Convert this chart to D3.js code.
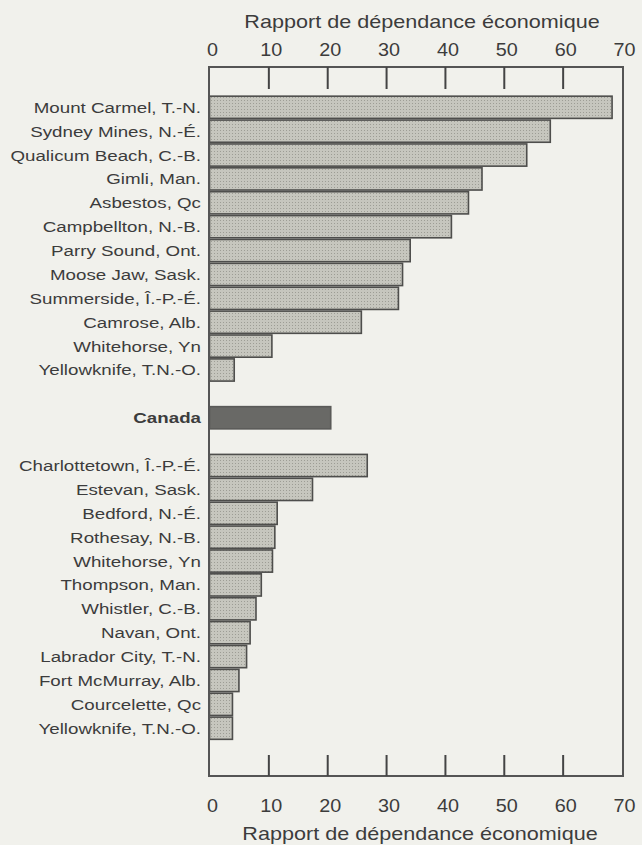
<!DOCTYPE html>
<html>
<head>
<meta charset="utf-8">
<script src="https://cdn.jsdelivr.net/npm/d3@7"></script>
<style>
  html, body { margin: 0; padding: 0; background: #f1f1ec; }
  svg { display: block; }
  text { font-family: "Liberation Sans", Arial, Helvetica, sans-serif; fill: #3c3c3c; }
</style>
</head>
<body>
<svg id="chart" width="642" height="845"></svg>
<script>
// ---- Data ----
const topCities = ["Mount Carmel, T.-N.", "Sydney Mines, N.-É.", "Qualicum Beach, C.-B.", "Gimli, Man.",
  "Asbestos, Qc", "Campbellton, N.-B.", "Parry Sound, Ont.", "Moose Jaw, Sask.",
  "Summerside, Î.-P.-É.", "Camrose, Alb.", "Whitehorse, Yn", "Yellowknife, T.N.-O."];
const topValues = [68.4, 57.9, 53.9, 46.3, 44.0, 41.1, 34.1, 32.8, 32.1, 25.8, 10.6, 4.2];

const canadaLabel = "Canada";
const canadaValue = 20.6;

const bottomCities = ["Charlottetown, Î.-P.-É.", "Estevan, Sask.", "Bedford, N.-É.", "Rothesay, N.-B.",
  "Whitehorse, Yn", "Thompson, Man.", "Whistler, C.-B.", "Navan, Ont.", "Labrador City, T.-N.",
  "Fort McMurray, Alb.", "Courcelette, Qc", "Yellowknife, T.N.-O."];
const bottomValues = [26.8, 17.5, 11.5, 11.1, 10.7, 8.8, 7.9, 6.9, 6.3, 5.0, 3.9, 3.9];

const tickValues = [0, 10, 20, 30, 40, 50, 60, 70];
const axisTitle = "Rapport de dépendance économique";

// ---- Rows (with two empty slots around Canada) ----
const rows = [];
topCities.forEach((c, i) => rows.push({ key: "t" + i, label: c, value: topValues[i], kind: "city" }));
rows.push({ key: "gap1", label: "", value: null, kind: "gap" });
rows.push({ key: "canada", label: canadaLabel, value: canadaValue, kind: "canada" });
rows.push({ key: "gap2", label: "", value: null, kind: "gap" });
bottomCities.forEach((c, i) => rows.push({ key: "b" + i, label: c, value: bottomValues[i], kind: "city" }));

// ---- Layout ----
const frame = { left: 209, right: 623, top: 67, bottom: 776 };
const x = d3.scaleLinear().domain([0, 70]).range([209.5, 621.5]);
const y = d3.scaleBand().domain(rows.map(d => d.key)).range([94.5, 741]).padding(0.07);

const svg = d3.select("#chart");

// Pattern for stippled bars
const defs = svg.append("defs");
const pat = defs.append("pattern").attr("id", "stip").attr("patternUnits", "userSpaceOnUse")
  .attr("width", 3).attr("height", 3);
pat.append("rect").attr("width", 3).attr("height", 3).attr("fill", "#c6c6be");
pat.append("rect").attr("x", 1).attr("y", 1).attr("width", 1).attr("height", 1).attr("fill", "#9d9d95");

// Bars
const bars = rows.filter(d => d.kind !== "gap");
svg.append("g").selectAll("rect").data(bars).join("rect")
  .attr("x", x(0))
  .attr("y", d => y(d.key))
  .attr("width", d => x(d.value) - x(0))
  .attr("height", y.bandwidth())
  .attr("fill", d => d.kind === "canada" ? "#696966" : "url(#stip)")
  .attr("stroke", d => d.kind === "canada" ? "#5a5a58" : "#4e4e4c")
  .attr("stroke-width", 1.6);

// Category labels
svg.append("g").selectAll("g").data(bars).join("g")
  .attr("transform", d => `translate(201,${y(d.key) + y.bandwidth() / 2 + 5.5})`)
  .append("text")
  .attr("text-anchor", "end")
  .attr("transform", "scale(1.25,1)")
  .style("font-size", "15px")
  .style("font-weight", d => d.kind === "canada" ? "bold" : "normal")
  .text(d => d.label);

// Frame
svg.append("rect")
  .attr("x", frame.left).attr("y", frame.top)
  .attr("width", frame.right - frame.left).attr("height", frame.bottom - frame.top)
  .attr("fill", "none").attr("stroke", "#555").attr("stroke-width", 2);

// Top axis
const topAxis = d3.axisTop(x).tickValues(tickValues).tickSizeInner(-22).tickSizeOuter(0).tickPadding(11)
  .tickFormat(d3.format("d"));
const gt = svg.append("g").attr("transform", `translate(0,${frame.top})`).call(topAxis);
// Bottom axis
const bottomAxis = d3.axisBottom(x).tickValues(tickValues).tickSizeInner(-21).tickSizeOuter(0).tickPadding(23)
  .tickFormat(d3.format("d"));
const gb = svg.append("g").attr("transform", `translate(0,${frame.bottom})`).call(bottomAxis);

[gt, gb].forEach(g => {
  g.select(".domain").remove();
  g.selectAll(".tick line").attr("stroke", "#444").attr("stroke-width", 2)
    .attr("opacity", d => (d === 0 || d === 70) ? 0 : 1);
  g.selectAll(".tick text")
    .attr("fill", "#3c3c3c")
    .style("font-size", "18px")
    .style("font-family", "'Liberation Sans', Arial, sans-serif")
    .attr("transform", "translate(2.5,0) scale(1.1,1)");
});

// Axis titles
svg.append("g").attr("transform", `translate(422,28)`)
  .append("text").attr("text-anchor", "middle").attr("transform", "scale(1.2,1)")
  .style("font-size", "18px").text(axisTitle);
svg.append("g").attr("transform", `translate(420,840)`)
  .append("text").attr("text-anchor", "middle").attr("transform", "scale(1.2,1)")
  .style("font-size", "18px").text(axisTitle);
</script>
</body>
</html>
